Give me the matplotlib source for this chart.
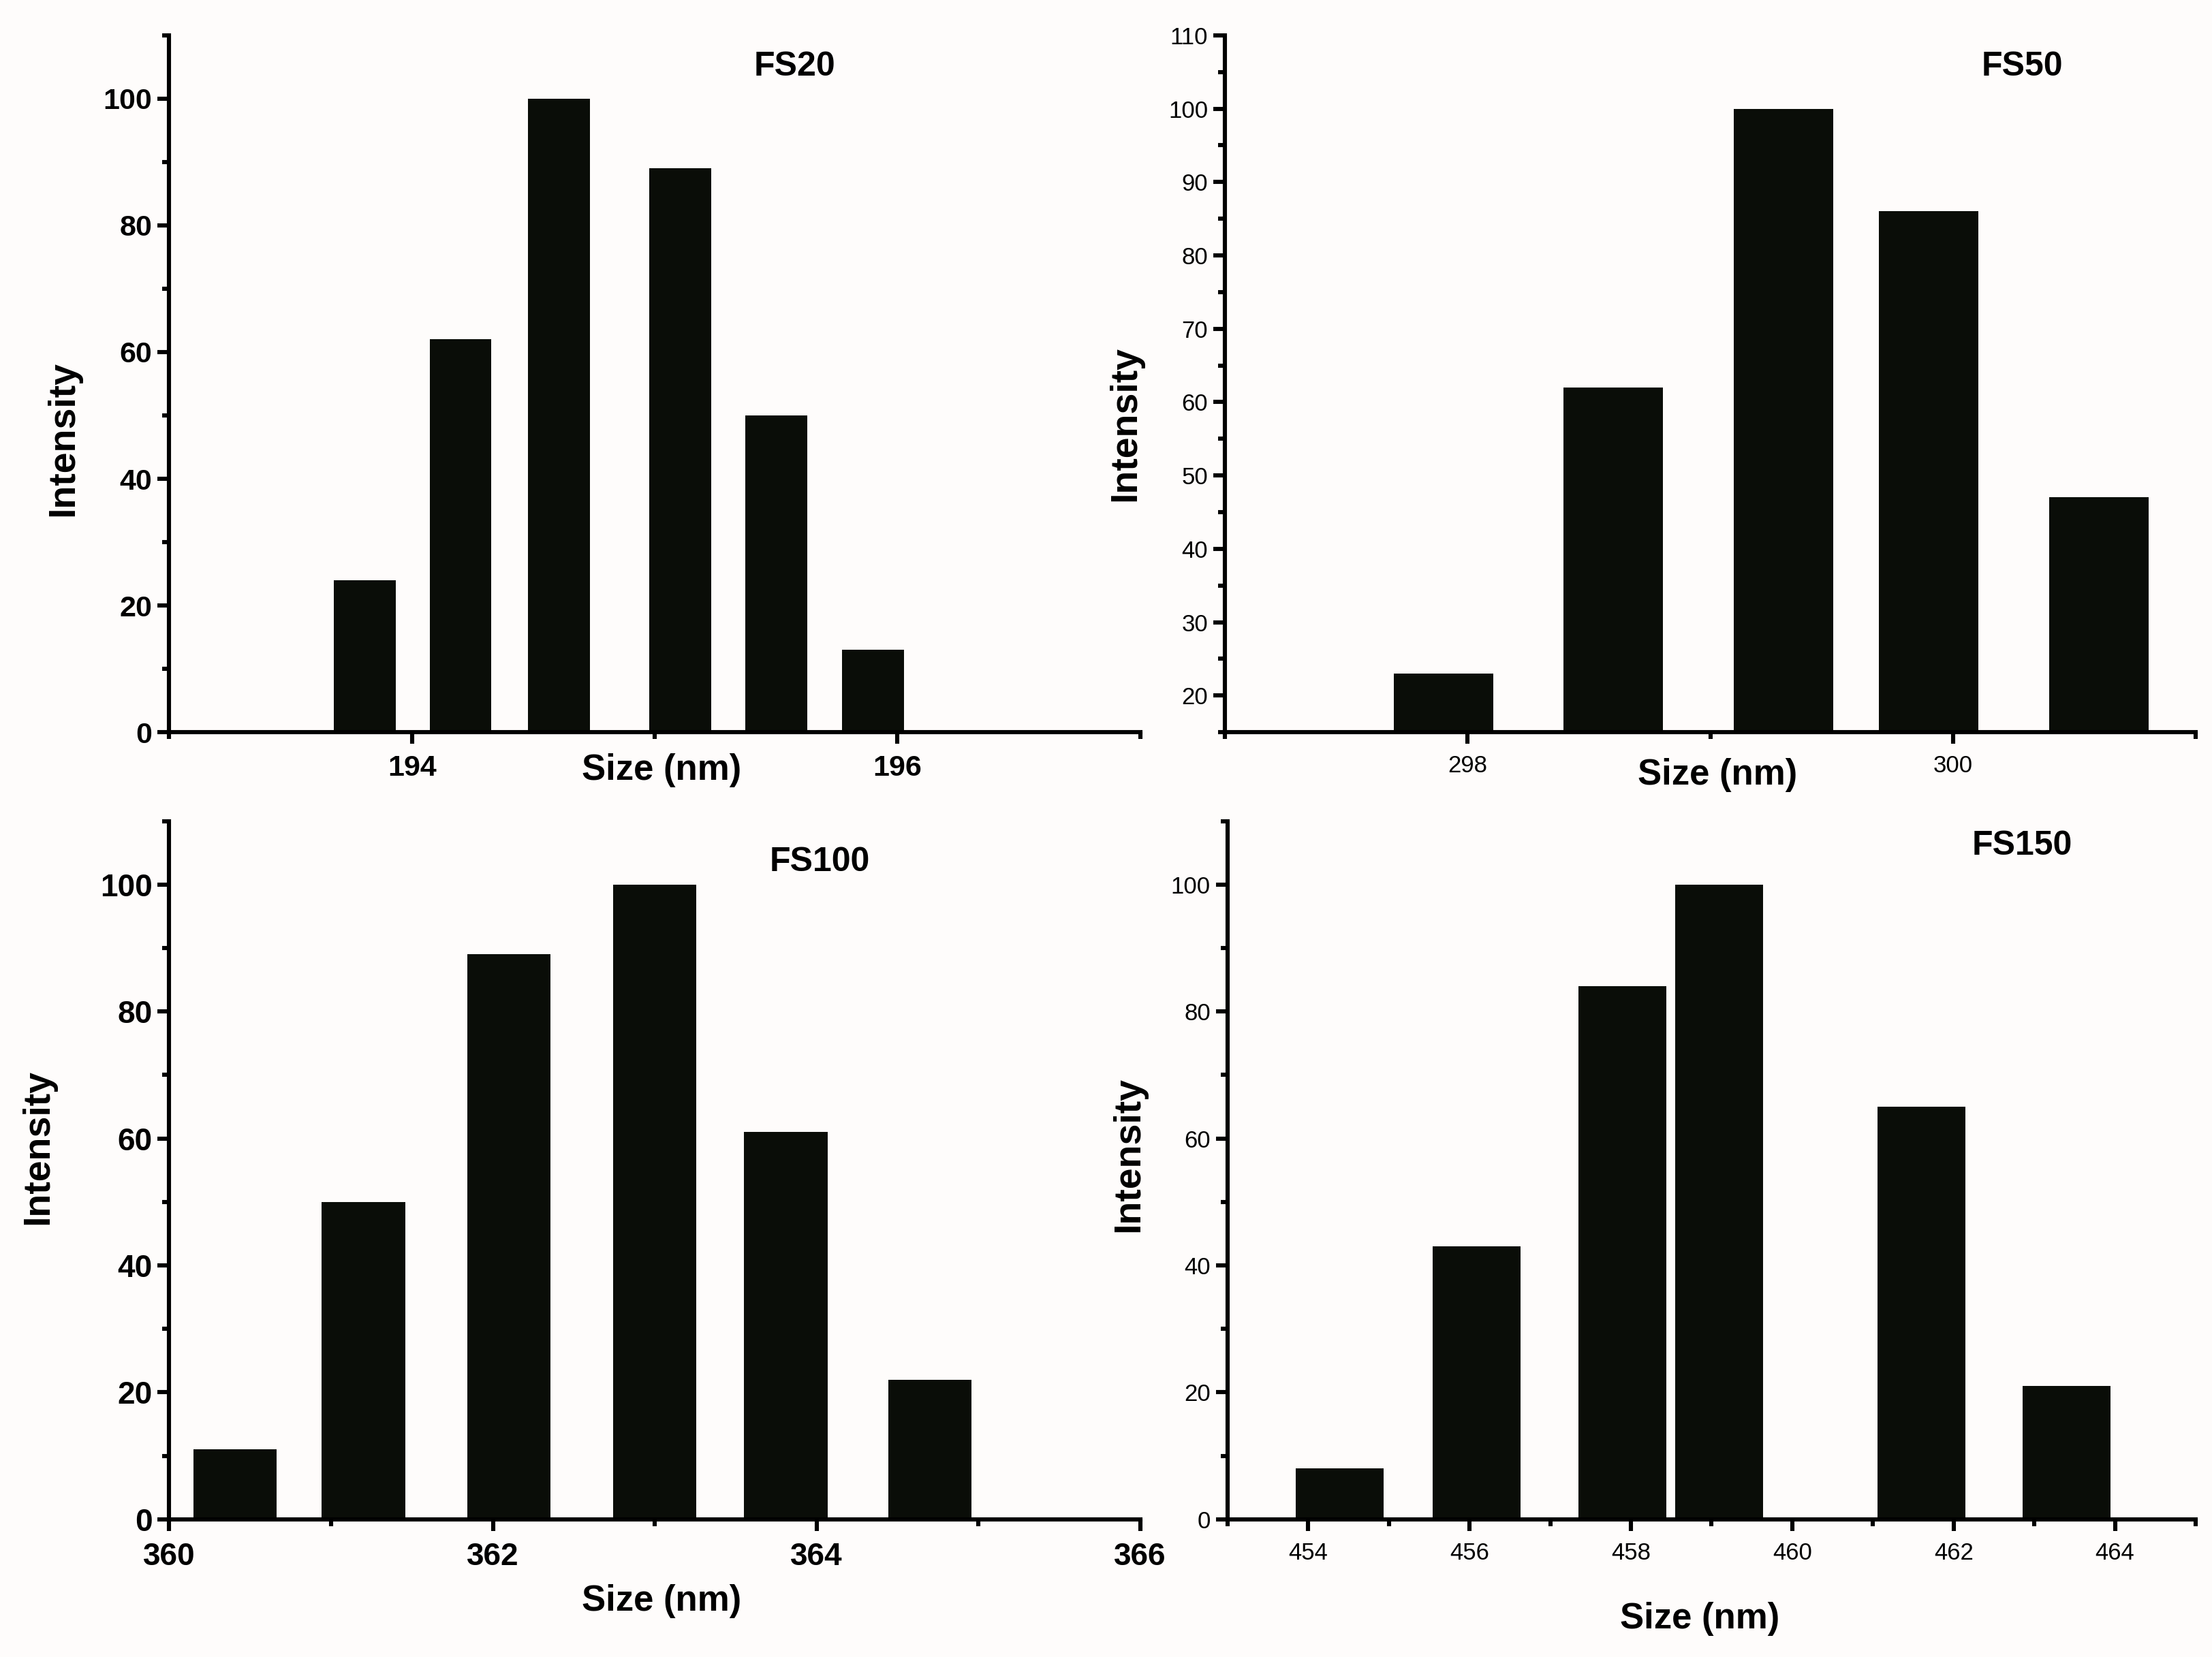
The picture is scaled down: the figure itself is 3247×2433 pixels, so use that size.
import matplotlib
matplotlib.use("Agg")
from matplotlib import pyplot as plt
from matplotlib.ticker import MultipleLocator

# --- data ---
fs20_size = [193.805, 194.20, 194.605, 195.105, 195.50, 195.90]
fs20_int = [24, 62, 100, 89, 50, 13]

fs50_size = [297.90, 298.60, 299.30, 299.90, 300.60]
fs50_int = [23, 62, 100, 86, 47]

fs100_size = [360.405, 361.20, 362.10, 363.00, 363.81, 364.70]
fs100_int = [11, 50, 89, 100, 61, 22]

fs150_size = [454.39, 456.09, 457.89, 459.09, 461.60, 463.40]
fs150_int = [8, 43, 84, 100, 65, 21]

BAR = "#0a0d08"
BG = "#fefcfb"
FONT = ["Liberation Sans", "DejaVu Sans"]

fig = plt.figure(figsize=(16.24, 12.165), dpi=200, facecolor=BG)

panels = [
    dict(rect=[0.0765, 0.5581, 0.4388, 0.4206], x=fs20_size, y=fs20_int, w=0.255,
         xlim=(193, 197), ylim=(0, 110), ymaj=20, bold=True, tsize=15.5,
         title="FS20", tpos=(0.644, 0.955), xl=(0.507, -0.055), yl=(-0.109, 0.421)),
    dict(rect=[0.5536, 0.5581, 0.4388, 0.4206], x=fs50_size, y=fs50_int, w=0.41,
         xlim=(297, 301), ylim=(15, 110), ymaj=10, bold=False, tsize=12.5,
         title="FS50", tpos=(0.821, 0.955), xl=(0.507, -0.061), yl=(-0.102, 0.443)),
    dict(rect=[0.0765, 0.0831, 0.4388, 0.4214], x=fs100_size, y=fs100_int, w=0.515,
         xlim=(360, 366), ylim=(0, 110), ymaj=20, bold=True, tsize=16.5,
         title="FS100", tpos=(0.670, 0.941), xl=(0.507, -0.117), yl=(-0.135, 0.533)),
    dict(rect=[0.5548, 0.0831, 0.4375, 0.4214], x=fs150_size, y=fs150_int, w=1.09,
         xlim=(453, 465), ylim=(0, 110), ymaj=20, bold=False, tsize=12.5,
         title="FS150", tpos=(0.821, 0.964), xl=(0.488, -0.143), yl=(-0.102, 0.523)),
]

for p in panels:
    ax = fig.add_axes(p["rect"])
    ax.set_facecolor(BG)
    ax.bar(p["x"], p["y"], width=p["w"], color=BAR, edgecolor="none")

    ax.set_xlim(*p["xlim"])
    ax.set_ylim(*p["ylim"])
    ax.xaxis.set_major_locator(MultipleLocator(2))
    ax.xaxis.set_minor_locator(MultipleLocator(1))
    ax.yaxis.set_major_locator(MultipleLocator(p["ymaj"]))
    ax.yaxis.set_minor_locator(MultipleLocator(p["ymaj"] / 2))

    for side in ("top", "right"):
        ax.spines[side].set_visible(False)
    for side in ("left", "bottom"):
        ax.spines[side].set_linewidth(2.2)

    ax.tick_params(which="major", direction="out", length=6, width=2.2)
    ax.tick_params(which="minor", direction="out", length=3.5, width=2.2)
    ax.tick_params(axis="x", which="major", pad=6)
    ax.tick_params(axis="y", which="major", pad=3)

    tweight = "bold" if p["bold"] else "normal"
    for lab in ax.get_xticklabels() + ax.get_yticklabels():
        lab.set_family(FONT)
        lab.set_fontsize(p["tsize"])
        lab.set_fontweight(tweight)

    ax.set_xlabel("Size (nm)", family=FONT, fontsize=19, fontweight="bold", va="center")
    ax.xaxis.set_label_coords(*p["xl"])
    ax.set_ylabel("Intensity", family=FONT, fontsize=20, fontweight="bold", va="center")
    ax.yaxis.set_label_coords(*p["yl"])

    ax.text(p["tpos"][0], p["tpos"][1], p["title"], transform=ax.transAxes,
            family=FONT, fontsize=18, fontweight="bold", ha="center", va="center")

plt.savefig("out.png", dpi=200, facecolor=BG)
